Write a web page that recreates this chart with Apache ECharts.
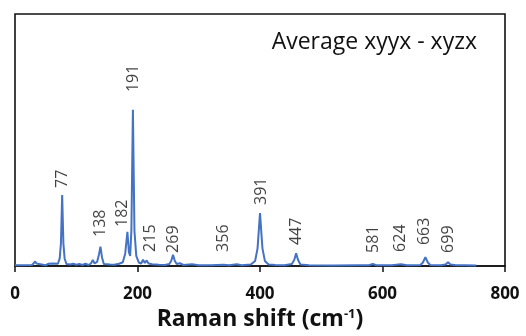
<!DOCTYPE html>
<html>
<head>
<meta charset="utf-8">
<script src="https://cdn.jsdelivr.net/npm/echarts@6/dist/echarts.min.js"></script>
<style>
  html, body { margin: 0; padding: 0; background: #fff; }
  #chart { width: 526px; height: 336px; }
</style>
</head>
<body>
<div id="chart"></div>
<script>
// spectrum trace: [Raman shift, intensity]
const spectrum = [
  [0, 0.3], [28, 0.4], [31, 1.0], [33, 1.8], [35, 1.0], [38, 0.3],
  [50, 0.3], [55, 0.9], [58, 0.4], [62, 1.0], [65, 0.5], [70, 0.9],
  [73, 3.0], [75, 9.0], [77, 28.2], [79, 9.0], [81, 3.0], [84, 0.8],
  [90, 0.6], [95, 0.9], [100, 0.5], [105, 0.8], [110, 0.4], [115, 0.9], [120, 0.4],
  [124, 1.0], [127, 2.4], [130, 1.0], [134, 1.6], [137, 4.5], [139.5, 7.7], [142, 3.5], [145, 0.8],
  [155, 0.6], [162, 0.5], [170, 0.9], [176, 1.5], [180, 5.0], [183.5, 13.6], [186, 5.5],
  [188, 4.0], [190, 14.0], [192.5, 62.0], [195, 14.0], [198, 4.0], [202, 1.4],
  [206, 1.0], [209, 2.5], [212, 1.2], [215, 2.2], [218, 1.0], [221, 1.6], [224, 0.7],
  [235, 0.5], [245, 0.4], [252, 0.8], [255, 2.0], [258, 4.4], [261, 2.0], [264, 0.8],
  [269, 1.1], [275, 0.4], [289, 0.7], [300, 0.3], [320, 0.3],
  [340, 0.5], [350, 0.3], [362, 0.7], [370, 0.3], [385, 0.6], [392, 2.0],
  [396, 7.0], [400, 21.0], [404, 7.0], [408, 2.0], [414, 0.6],
  [425, 0.4], [440, 0.3], [452, 0.8], [456, 2.5], [459, 5.0], [462, 2.5], [466, 0.6],
  [480, 0.3], [520, 0.2], [560, 0.3], [578, 0.3], [584, 0.8], [590, 0.3],
  [615, 0.3], [630, 0.7], [640, 0.3], [662, 0.4], [666, 1.4], [670, 3.5], [674, 1.4], [678, 0.4],
  [695, 0.3], [703, 0.6], [707, 1.5], [711, 0.6], [720, 0.3], [735, 0.3], [753, 0.2]
];

// peak labels: [label x, label bottom, text]
const peakLabels = [
  [77, 31, '77'], [139, 11.5, '138'], [176, 15.5, '182'], [192.6, 69, '191'],
  [221.5, 5.6, '215'], [258.5, 5.2, '269'], [339.6, 5.6, '356'], [401.6, 24.2, '391'],
  [460, 8.3, '447'], [584.5, 5.2, '581'], [628.6, 5.6, '624'], [669, 8.3, '663'],
  [707, 5.2, '699']
];

const xTicks = [0, 200, 400, 600, 800];
const chartTitle = 'Average xyyx - xyzx';

const chart = echarts.init(document.getElementById('chart'));

chart.setOption({
  animation: false,
  title: {
    text: chartTitle,
    right: 44,
    top: 26,
    textStyle: { fontFamily: 'Open Sans', fontSize: 23, fontWeight: 'normal', color: '#111' }
  },
  grid: {
    left: 15, right: 21, top: 14, bottom: 70,
    show: true, borderColor: '#111', borderWidth: 1.6
  },
  xAxis: {
    type: 'value',
    min: xTicks[0],
    max: xTicks[xTicks.length - 1],
    interval: 200,
    name: '{b|Raman shift (cm}{s|-1}{b|)}',
    nameLocation: 'middle',
    nameGap: 40,
    nameTextStyle: {
      rich: {
        b: { fontFamily: 'Open Sans', fontSize: 23, fontWeight: 'bold', color: '#111' },
        s: { fontFamily: 'Open Sans', fontSize: 13, fontWeight: 'bold', color: '#111', verticalAlign: 'top', padding: [0, 0, 10, 0] }
      }
    },
    axisLine: { onZero: false, lineStyle: { color: '#111', width: 1.6 } },
    axisTick: { show: true, inside: false, length: 6, lineStyle: { color: '#111', width: 1.5 } },
    axisLabel: { margin: 20, fontFamily: 'Open Sans', fontSize: 17, fontWeight: 'bold', color: '#111' },
    splitLine: { show: false }
  },
  yAxis: {
    type: 'value',
    min: 0,
    max: 100,
    axisLine: { show: false },
    axisTick: { show: false },
    axisLabel: { show: false },
    splitLine: { show: false }
  },
  series: [
    {
      type: 'line',
      data: spectrum,
      showSymbol: false,
      lineStyle: { color: '#4472C4', width: 2 },
      z: 2
    },
    {
      type: 'scatter',
      data: peakLabels,
      symbolSize: 0,
      label: {
        show: true,
        position: [0, 0],
        rotate: 90,
        align: 'left',
        verticalAlign: 'middle',
        formatter: p => p.data[2],
        fontFamily: 'Open Sans',
        fontSize: 16,
        color: '#111'
      },
      z: 3
    }
  ]
});
</script>
</body>
</html>
